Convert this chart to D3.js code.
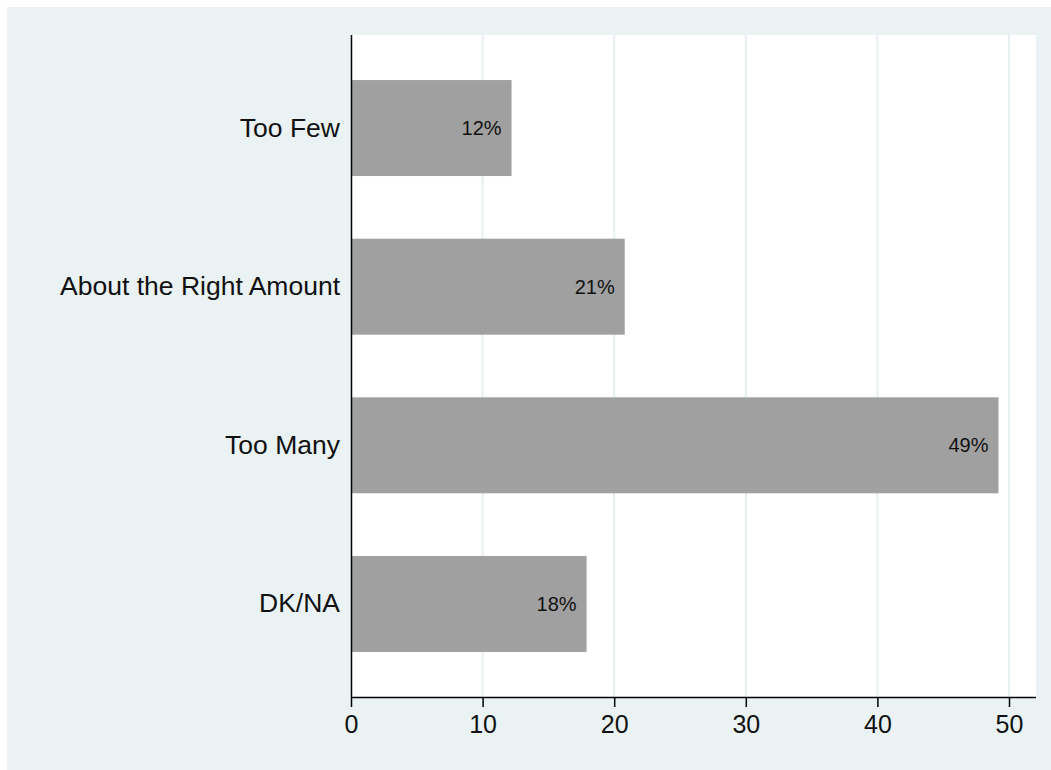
<!DOCTYPE html>
<html><head><meta charset="utf-8">
<script src="https://cdn.jsdelivr.net/npm/d3@7"></script>
<style>body{margin:0;background:#fff}svg{display:block}</style>
</head><body>
<svg id="c" width="1051" height="770"></svg>
<script>
const categories = ["Too Few","About the Right Amount","Too Many","DK/NA"];
const values = [12.2, 20.8, 49.2, 17.9];
const labels = ["12%","21%","49%","18%"];
const xTicks = [0,10,20,30,40,50];

const svg = d3.select("#c");
const font = "'Liberation Sans', Arial, Helvetica, sans-serif";
svg.append("rect").attr("x",7).attr("y",7).attr("width",1044).attr("height",763).attr("fill","#eaf2f3");
const L=351, R=1036, T=35, B=697;
svg.append("rect").attr("x",L).attr("y",T).attr("width",R-L).attr("height",B-T).attr("fill","#fff");

const x = d3.scaleLinear().domain([0,50]).range([L,1009]);
const y = d3.scaleBand().domain(categories).range([T,B]).paddingInner(0.395).paddingOuter(0.284);

svg.append("g").selectAll("line").data(xTicks.filter(d=>d>0)).join("line")
  .attr("x1",d=>x(d)).attr("x2",d=>x(d)).attr("y1",T).attr("y2",B)
  .attr("stroke","#e6eff1").attr("stroke-width",2);

svg.append("g").selectAll("rect").data(values).join("rect")
  .attr("x",x(0)).attr("y",(d,i)=>y(categories[i]))
  .attr("width",d=>x(d)-x(0)).attr("height",y.bandwidth())
  .attr("fill","#a0a0a0");

svg.append("g").selectAll("text").data(values).join("text")
  .attr("x",d=>x(d)-10).attr("y",(d,i)=>y(categories[i])+y.bandwidth()/2)
  .attr("dy","0.35em").attr("text-anchor","end")
  .attr("font-family",font).attr("font-size",20).attr("fill","#111")
  .text((d,i)=>labels[i]);

const xa = svg.append("g").attr("transform",`translate(0,${B})`)
  .call(d3.axisBottom(x).tickValues(xTicks).tickSize(10).tickPadding(8).tickFormat(d3.format("d")));
xa.select(".domain").attr("d",`M${L},0.5H${R}`).attr("stroke","#000").attr("stroke-width",1.5);
xa.selectAll(".tick line").attr("stroke","#000").attr("stroke-width",1.5);
xa.selectAll("text").attr("font-family",font).attr("font-size",25).attr("fill","#111");

const ya = svg.append("g").attr("transform",`translate(${L},0)`)
  .call(d3.axisLeft(y).tickSize(0).tickPadding(11));
ya.select(".domain").attr("d",`M0.5,${T}V${B}`).attr("stroke","#000").attr("stroke-width",1.5);
ya.selectAll("text").attr("font-family",font).attr("font-size",26.5).attr("fill","#111");
</script>
</body></html>
